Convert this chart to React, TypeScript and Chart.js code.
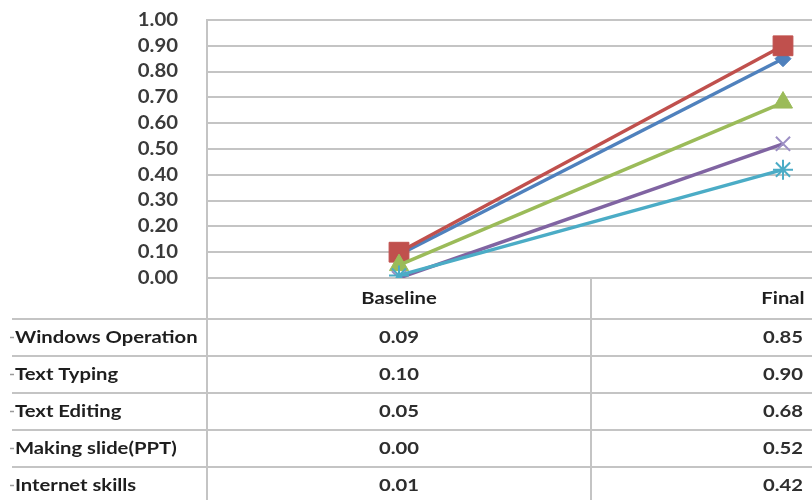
import React, { useEffect, useRef } from 'react';
import { Chart, registerables } from 'chart.js';

Chart.register(...registerables);

const categories = ['Baseline', 'Final'];
const seriesNames = ['Windows Operation', 'Text Typing', 'Text Editing', 'Making slide(PPT)', 'Internet skills'];
const windowsOperation = [0.09, 0.85];
const textTyping = [0.1, 0.9];
const textEditing = [0.05, 0.68];
const makingSlide = [0.0, 0.52];
const internetSkills = [0.01, 0.42];
const seriesValues = [windowsOperation, textTyping, textEditing, makingSlide, internetSkills];
const seriesColors = ['#4F81BD', '#C0504D', '#9BBB59', '#8064A2', '#4BACC6'];
const markerColors = ['#4F81BD', '#C0504D', '#9BBB59', '#9C8FC4', '#4BACC6'];
const pointStyles = ['rectRot', 'rect', 'triangle', 'crossRot', 'star'];
const pointRadii = [8, 14, 11, 10, 10];
const yMin = 0;
const yMax = 1;
const yStep = 0.1;

const GRID = '#c4c4c4';
const FONT = 'Lato, "Open Sans", sans-serif';
const STRETCH = 1.19;

function stretchedText(ctx: any, text: string, x: number, y: number, align: string, sx: number) {
  ctx.save();
  ctx.translate(x, y);
  ctx.scale(sx, 1);
  ctx.textAlign = align;
  ctx.fillText(text, 0, 0);
  ctx.restore();
}

const tablePlugin = {
  id: 'dataTable',
  afterDraw(chart: any) {
    const { ctx, chartArea: a, scales } = chart;
    const xs = scales.x;
    const ys = scales.y;
    const H = chart.height;
    const headerH = 41;
    const rowH = 37;
    const tableLeft = 12;
    ctx.save();
    ctx.strokeStyle = GRID;
    ctx.lineWidth = 2;
    const line = (x1: number, y1: number, x2: number, y2: number) => {
      ctx.beginPath();
      ctx.moveTo(x1, y1);
      ctx.lineTo(x2, y2);
      ctx.stroke();
    };
    line(a.left, a.bottom, a.left, H);
    const mid = (xs.getPixelForValue(0) + xs.getPixelForValue(1)) / 2;
    line(mid, a.bottom, mid, H);
    for (let i = 0; i < seriesNames.length; i++) {
      const y = a.bottom + headerH + i * rowH;
      line(tableLeft, y, a.right, y);
    }
    ctx.textBaseline = 'middle';
    // y tick labels
    ctx.fillStyle = '#3a3a3a';
    ctx.font = `bold 18px ${FONT}`;
    ys.ticks.forEach((t: any) => {
      stretchedText(ctx, Number(t.value).toFixed(2), a.left - 29, ys.getPixelForValue(t.value), 'right', 1.13);
    });
    // header
    ctx.fillStyle = '#1e1e1e';
    ctx.font = `bold 17px ${FONT}`;
    categories.forEach((c, j) => {
      stretchedText(ctx, c, xs.getPixelForValue(j), a.bottom + headerH / 2, 'center', STRETCH);
    });
    seriesNames.forEach((name, i) => {
      const cy = a.bottom + headerH + i * rowH + rowH / 2;
      ctx.strokeStyle = '#9a9a9a';
      ctx.lineWidth = 1.5;
      line(10, cy, 14, cy);
      ctx.fillStyle = '#1e1e1e';
      ctx.font = `bold 17px ${FONT}`;
      stretchedText(ctx, name, 15, cy, 'left', STRETCH);
      ctx.fillStyle = '#2e2e2e';
      seriesValues[i].forEach((v, j) => {
        stretchedText(ctx, v.toFixed(2), xs.getPixelForValue(j), cy, 'center', STRETCH);
      });
    });
    ctx.restore();
  },
};

export default function App() {
  const ref = useRef<HTMLCanvasElement>(null);
  useEffect(() => {
    if (!ref.current) return;
    const chart = new Chart(ref.current, {
      type: 'line',
      data: {
        labels: categories,
        datasets: seriesNames.map((name, i) => ({
          label: name,
          data: seriesValues[i],
          borderColor: seriesColors[i],
          backgroundColor: markerColors[i],
          pointBackgroundColor: markerColors[i],
          pointBorderColor: markerColors[i],
          pointStyle: pointStyles[i] as any,
          pointRadius: pointRadii[i],
          pointBorderWidth: i >= 3 ? 2 : 1,
          borderWidth: 3.5,
          tension: 0,
          order: seriesNames.length - i,
        })),
      },
      options: {
        responsive: false,
        animation: false,
        layout: { padding: { left: 0, top: 20, right: 11, bottom: 222 } },
        plugins: { legend: { display: false }, tooltip: { enabled: false } },
        scales: {
          x: { type: 'category', offset: true, display: false },
          y: {
            min: yMin,
            max: yMax,
            afterFit: (s: any) => {
              s.width = 207;
            },
            ticks: {
              stepSize: yStep,
              display: false,
            },
            grid: { color: GRID, lineWidth: 2, drawTicks: false },
            border: { color: GRID, width: 2 },
          },
        },
      },
      plugins: [tablePlugin],
    });
    return () => chart.destroy();
  }, []);
  return (
    <div
      style={{
        position: 'fixed',
        left: 0,
        top: 0,
        width: 812,
        height: 500,
        overflow: 'hidden',
        background: '#fff',
      }}
    >
      <canvas ref={ref} width={990} height={500} style={{ display: 'block', width: 990, height: 500 }} />
    </div>
  );
}
